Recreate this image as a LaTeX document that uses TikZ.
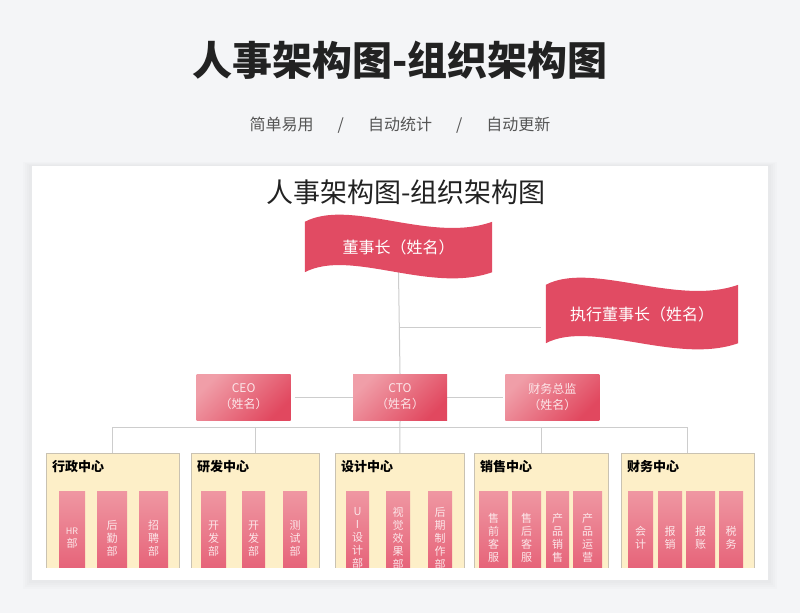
\documentclass[tikz,border=0pt]{standalone}
\usepackage{fontspec}
\setmainfont{Noto Sans CJK SC}
\usetikzlibrary{calc, positioning}
\definecolor{pagegray}{HTML}{F4F5F7}
\definecolor{titleblack}{HTML}{222222}
\definecolor{subgray}{HTML}{555555}
\definecolor{flagred}{HTML}{E14B63}
\definecolor{boxlight}{HTML}{F09EA8}
\definecolor{boxdark}{HTML}{E1485F}
\definecolor{barlight}{HTML}{EF97A2}
\definecolor{bardark}{HTML}{E45870}
\definecolor{bartext}{HTML}{FCE6E9}
\definecolor{ctryellow}{HTML}{FDEFC8}
\definecolor{ctrborder}{HTML}{C9C2B2}
\definecolor{linegray}{HTML}{CDCDCD}
\pgfdeclarelayer{canvas}
\pgfdeclarelayer{background}
\pgfsetlayers{canvas,background,main}

% wavy banner behind a flag node
\newcommand{\wavyflag}[1]{%
  \fill[flagred] (#1.north west) .. controls +(46,-24) and +(-62,22) .. (#1.north east)
    -- (#1.south east) .. controls +(-62,22) and +(46,-24) .. (#1.south west) -- cycle;}

\begin{document}
\begin{tikzpicture}[
        x=1pt, y=-1pt,
        flagtext/.style = {text=white, font=\fontsize{16}{19}\selectfont, inner sep=0pt},
        execbox/.style = {top color=boxlight, bottom color=boxdark, shading angle=45, minimum width=94pt, minimum height=46pt, align=center, text=bartext, font=\fontsize{12}{16}\selectfont, inner sep=0pt},
        ctrbox/.style = {draw=ctrborder, fill=ctryellow, line width=0.8pt, anchor=north west, minimum height=140pt, inner sep=0pt},
        ctrtitle/.style = {font=\fontsize{13}{15}\selectfont\bfseries, anchor=north west, inner sep=0pt},
        bar/.style = {top color=barlight, bottom color=bardark, anchor=north, minimum height=94pt, inner sep=0pt, align=center, text=bartext, font=\fontsize{11}{13}\selectfont},
        conn/.style = {draw=linegray, line width=1pt}
    ]
        \useasboundingbox (0,0) rectangle (800,613);

        % Page and card
        \begin{pgfonlayer}{canvas}
            \fill[pagegray] (0,0) rectangle (800,613);
            \foreach \s in {9,7,5,3} \fill[black, opacity=0.01] (32-\s,166-\s/2) rectangle (768+\s,580+\s);
            \fill[white] (32,166) rectangle (768,580);
        \end{pgfonlayer}

        % Titles
        \node (title) [font=\fontsize{40}{48}\selectfont\bfseries, text=titleblack] at (400,60) {人事架构图-组织架构图};
        \node (subtitle) [font=\fontsize{16}{19}\selectfont, text=subgray] at (400,125) {简单易用\hspace{24pt}/\hspace{24pt}自动统计\hspace{24pt}/\hspace{24pt}自动更新};
        \node (cardtitle) [font=\fontsize{27}{32}\selectfont, text=titleblack] at (406,192) {人事架构图-组织架构图};

        % Board
        \node (chair) [flagtext, minimum width=187pt, minimum height=50pt] at (398.5,247) {董事长（姓名）};
        \node (execChair) [flagtext, minimum width=192pt, minimum height=58pt] at (642,314) {执行董事长（姓名）};

        % Executives
        \node (cto) [execbox] at (400,397) {CTO\\（姓名）};
        \node (ceo) [execbox, left=62pt of cto] {CEO\\（姓名）};
        \node (cfo) [execbox, right=58pt of cto] {财务总监\\（姓名）};

        % Centers and departments
        \begin{scope}
            \clip (32,166) rectangle (768,567);
            \node (admin) [ctrbox, minimum width=133pt] at (46,453) {};
            \node (rnd) [ctrbox, minimum width=128pt] at (191,453) {};
            \node (design) [ctrbox, minimum width=129pt] at (335,453) {};
            \node (sales) [ctrbox, minimum width=134pt] at (474,453) {};
            \node (finance) [ctrbox, minimum width=133pt] at (621,453) {};
            \foreach \c/\t in {admin/行政中心, rnd/研发中心, design/设计中心, sales/销售中心, finance/财务中心}
                \node (\c Title) [ctrtitle] at ([shift={(6,7)}]\c.north west) {\t};
            \foreach \x/\w/\t [count=\i] in {
                    72/26/{{\fontsize{9}{13}\selectfont HR}\\部}, 112/30/{后\\勤\\部}, 153.5/29/{招\\聘\\部},
                    213.5/25/{开\\发\\部}, 253.5/23/{开\\发\\部}, 295/24/{测\\试\\部},
                    357.5/23/{U\\I\\设\\计\\部}, 398/24/{视\\觉\\效\\果\\部}, 440/24/{后\\期\\制\\作\\部},
                    493.5/29/{售\\前\\客\\服}, 526.5/29/{售\\后\\客\\服}, 557.5/23/{产\\品\\销\\售}, 587.5/29/{产\\品\\运\\营},
                    640.5/25/{会\\计}, 670/24/{报\\销}, 700.5/29/{报\\账}, 731/24/{税\\务}}
                \node (dept\i) [bar, minimum width=\w pt] at (\x,491) {\t};
        \end{scope}

        % Connectors and banners
        \begin{pgfonlayer}{background}
            \coordinate (branch) at ($(chair.south)+(0,55)$);
            \coordinate (bus) at ($(cto.south)+(0,7)$);
            \draw [conn] (chair.south) -- (cto.north);
            \draw [conn, shorten >=5pt] (branch) -- (branch -| execChair.west);
            \draw [conn, shorten <=4pt] (ceo.east) -- (cto.west);
            \draw [conn, shorten >=2pt] (cto.east) -- (cfo.west);
            \draw [conn] (cto.south) -- (design.north);
            \draw [conn] (bus -| admin.north) -- (bus -| finance.north);
            \foreach \c in {admin, rnd, sales, finance}
                \draw [conn] (bus -| \c.north) -- (\c.north);
            \wavyflag{chair}
            \wavyflag{execChair}
        \end{pgfonlayer}

    \end{tikzpicture}
\end{document}
